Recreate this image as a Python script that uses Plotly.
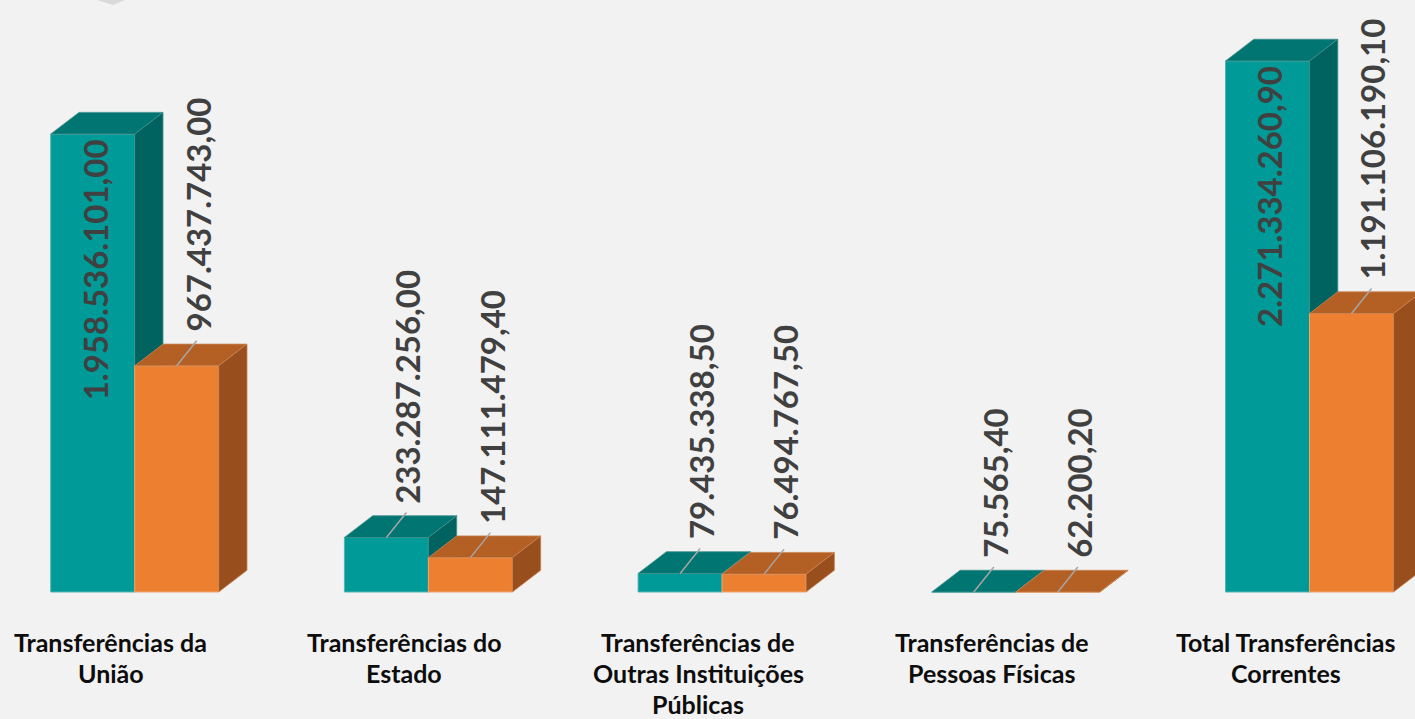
import plotly.graph_objects as go

# ---------------- data ----------------
categories = [
    "Transferências da<br>União",
    "Transferências do<br>Estado",
    "Transferências de<br>Outras Instituições<br>Públicas",
    "Transferências de<br>Pessoas Físicas",
    "Total Transferências<br>Correntes",
]
serie_1 = [1958536101.00, 233287256.00, 79435338.50, 75565.40, 2271334260.90]
serie_2 = [967437743.00, 147111479.40, 76494767.50, 62200.20, 1191106190.10]
series_names = ["Série 1", "Série 2"]

# ---------------- style ----------------
W, H = 1415, 719
BG = "#f2f2f2"
PX_X = 293.7          # pixels per category unit
PX_Y = 0.2338e-6      # pixels per value unit
BASE_PX = 592         # baseline pixel row
CENTER0_PX = 134.7    # pixel column of first category centre
BAR_W = 84 / PX_X
DX = 28.3 / PX_X
DY = 21.7 / PX_Y

styles = [
    dict(front="#009a98", top="#007572", side="#006360", edge="#55b3b1", edge2="#3f8f8c"),
    dict(front="#ed7f31", top="#b45f24", side="#994f1d", edge="#f1a472", edge2="#c98553"),
]
LABEL_FONT = dict(family="Lato", size=33, color="#404040")
CAT_FONT = dict(family="Lato", size=25, color="#0d0d0d")

def ux(px):
    return px / PX_X

def uy(px):
    return px / PX_Y

def fmt_br(v):
    s = f"{v:,.2f}"
    return s.replace(",", "X").replace(".", ",").replace("X", ".")

def text_len_px(s):
    return sum(18.5 if ch.isdigit() else 10 for ch in s)

fig = go.Figure()
annotations = []
leader_x, leader_y = [], []

for si, vals in enumerate([serie_1, serie_2]):
    st = styles[si]
    fx, fy, tx, ty, sx, sy = [], [], [], [], [], []
    for i, v in enumerate(vals):
        xl = i - BAR_W if si == 0 else i
        xr = xl + BAR_W
        fx += [xl, xr, xr, xl, xl, None]
        fy += [0, 0, v, v, 0, None]
        tx += [xl, xl + DX, xr + DX, xr, xl, None]
        ty += [v, v + DY, v + DY, v, v, None]
        sx += [xr, xr, xr + DX, xr + DX, xr, None]
        sy += [0, v, v + DY, DY, 0, None]

        # data label
        label = fmt_br(v)
        xc = (xl + xr) / 2
        top_px = BASE_PX - v * PX_Y
        if top_px - 35 - text_len_px(label) < 0:
            annotations.append(dict(
                x=xc, y=v, xref="x", yref="y", text=f"<b>{label}</b>",
                textangle=-90, showarrow=False, xanchor="center", yanchor="top",
                xshift=2, yshift=-3, font=LABEL_FONT))
        else:
            annotations.append(dict(
                x=xc + ux(21), y=v + uy(32), xref="x", yref="y", text=f"<b>{label}</b>",
                textangle=-90, showarrow=False, xanchor="center", yanchor="bottom",
                font=LABEL_FONT))
            leader_x += [xc, xc + ux(20), None]
            leader_y += [v, v + uy(25), None]

    fig.add_trace(go.Scatter(x=fx, y=fy, mode="lines", fill="toself", fillcolor=st["front"],
                             line=dict(color=st["edge"], width=1), name=series_names[si],
                             hoverinfo="skip", showlegend=False))
    fig.add_trace(go.Scatter(x=tx, y=ty, mode="lines", fill="toself", fillcolor=st["top"],
                             line=dict(color=st["edge2"], width=0.8), hoverinfo="skip",
                             showlegend=False))
    fig.add_trace(go.Scatter(x=sx, y=sy, mode="lines", fill="toself", fillcolor=st["side"],
                             line=dict(color=st["edge2"], width=0.8), hoverinfo="skip",
                             showlegend=False))

fig.add_trace(go.Scatter(x=leader_x, y=leader_y, mode="lines",
                         line=dict(color="#a6a6a6", width=1.5), hoverinfo="skip",
                         showlegend=False))

# category labels (one annotation per line)
for i, cat in enumerate(categories):
    for k, line in enumerate(cat.split("<br>")):
        annotations.append(dict(
            x=i, y=0, xref="x", yref="y", text=f"<b>{line}</b>", showarrow=False,
            xanchor="center", yanchor="middle", xshift=-24, yshift=-(50 + 31 * k),
            font=CAT_FONT))

# small decorative wedge at the top edge (cropped shape in the original)
shapes = [dict(type="path", xref="paper", yref="paper",
               path=f"M {97/W},1 L {125/W},1 L {113/W},{1-5/H} Z",
               fillcolor="#d9d9d9", line=dict(width=0))]

x_left = -CENTER0_PX / PX_X
x_right = (W - CENTER0_PX) / PX_X
y_bottom = -(H - BASE_PX) / PX_Y
y_top = BASE_PX / PX_Y

fig.update_layout(
    width=W, height=H,
    margin=dict(l=0, r=0, t=0, b=0),
    paper_bgcolor=BG, plot_bgcolor=BG,
    xaxis=dict(range=[x_left, x_right], visible=False, fixedrange=True),
    yaxis=dict(range=[y_bottom, y_top], visible=False, fixedrange=True),
    annotations=annotations,
    shapes=shapes,
    showlegend=False,
)

fig.write_html(
    "out.html",
    config={"displayModeBar": False},
    post_script="document.body.style.margin='0';document.body.style.background='%s';" % BG,
)
